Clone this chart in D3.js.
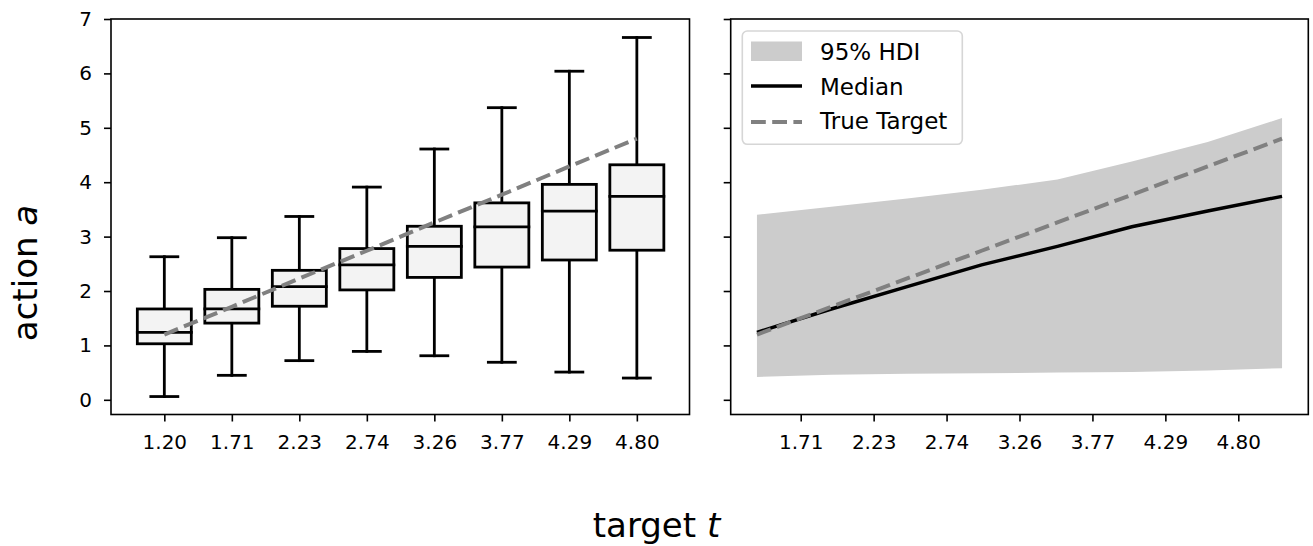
<!DOCTYPE html>
<html>
<head>
<meta charset="utf-8">
<script src="https://cdn.jsdelivr.net/npm/d3@7"></script>
<style>
  body { margin: 0; background: #fff; }
  svg, svg text { font-family: "DejaVu Sans", sans-serif; }
</style>
</head>
<body>
<svg id="chart" width="1313" height="546"></svg>
<script>
// target values (one box per target)
var targets = [1.20, 1.71, 2.23, 2.74, 3.26, 3.77, 4.29, 4.80];
var tickLabels = ["1.20", "1.71", "2.23", "2.74", "3.26", "3.77", "4.29", "4.80"];

// boxplot stats
var whiskerLow  = [0.06, 0.45, 0.72, 0.89, 0.81, 0.69, 0.51, 0.40];
var q1          = [1.03, 1.41, 1.72, 2.02, 2.25, 2.44, 2.57, 2.75];
var medians     = [1.24, 1.67, 2.08, 2.48, 2.82, 3.18, 3.47, 3.74];
var q3          = [1.67, 2.03, 2.38, 2.78, 3.19, 3.62, 3.96, 4.32];
var whiskerHigh = [2.63, 2.98, 3.37, 3.91, 4.61, 5.37, 6.04, 6.66];

// 95% HDI band for the right panel
var hdiLow  = [0.42, 0.46, 0.48, 0.49, 0.50, 0.51, 0.54, 0.58];
var hdiHigh = [3.40, 3.55, 3.70, 3.86, 4.05, 4.38, 4.74, 5.18];

// right panel ticks sit on the auto ticks but carry shifted labels
var rightTicks = [1.5, 2.0, 2.5, 3.0, 3.5, 4.0, 4.5];
var rightTickLabels = ["1.71", "2.23", "2.74", "3.26", "3.77", "4.29", "4.80"];
var yTicks = [0, 1, 2, 3, 4, 5, 6, 7];

var svg = d3.select("#chart");
var plotTop = 19, plotBottom = 414.5;
var tickFont = "20px";

var y = d3.scaleLinear().domain([-0.27, 7.0]).range([plotBottom, plotTop]);

function frame(g, x0, x1) {
  g.append("rect")
    .attr("x", x0).attr("y", plotTop)
    .attr("width", x1 - x0).attr("height", plotBottom - plotTop)
    .attr("fill", "none")
    .attr("stroke", "#000")
    .attr("stroke-width", 1.6);
}

function styleAxis(a) {
  a.attr("font-family", "DejaVu Sans").attr("font-size", 20);
  a.select(".domain").remove();
  a.selectAll(".tick line").attr("stroke", "#000").attr("stroke-width", 1.6);
  a.selectAll(".tick text").attr("fill", "#000").style("font-size", tickFont);
}

// ---------- left panel: boxplots ----------
var L = {x0: 111, x1: 689.5};
var xL = d3.scaleLinear().domain([-0.79, 7.78]).range([L.x0, L.x1]);
var gL = svg.append("g");

var yAxisL = gL.append("g")
  .attr("transform", "translate(" + L.x0 + ",0)")
  .call(d3.axisLeft(y).tickValues(yTicks).tickFormat(d3.format("d")).tickSize(7).tickPadding(12));
styleAxis(yAxisL);

var xAxisL = gL.append("g")
  .attr("transform", "translate(0," + plotBottom + ")")
  .call(d3.axisBottom(xL).tickValues(d3.range(targets.length))
    .tickFormat(function(i) { return tickLabels[i]; }).tickSize(7).tickPadding(13));
styleAxis(xAxisL);

var boxW = 0.8, capW = 0.4;
var boxes = gL.selectAll(".box")
  .data(targets.map(function(t, i) { return i; }))
  .enter().append("g")
  .attr("class", "box");

boxes.append("line")
  .attr("x1", function(i) { return xL(i); }).attr("x2", function(i) { return xL(i); })
  .attr("y1", function(i) { return y(whiskerLow[i]); })
  .attr("y2", function(i) { return y(q1[i]); });
boxes.append("line")
  .attr("x1", function(i) { return xL(i); }).attr("x2", function(i) { return xL(i); })
  .attr("y1", function(i) { return y(q3[i]); })
  .attr("y2", function(i) { return y(whiskerHigh[i]); });
boxes.append("line")
  .attr("x1", function(i) { return xL(i - capW / 2); }).attr("x2", function(i) { return xL(i + capW / 2); })
  .attr("y1", function(i) { return y(whiskerLow[i]); })
  .attr("y2", function(i) { return y(whiskerLow[i]); });
boxes.append("line")
  .attr("x1", function(i) { return xL(i - capW / 2); }).attr("x2", function(i) { return xL(i + capW / 2); })
  .attr("y1", function(i) { return y(whiskerHigh[i]); })
  .attr("y2", function(i) { return y(whiskerHigh[i]); });
boxes.append("rect")
  .attr("x", function(i) { return xL(i - boxW / 2); })
  .attr("width", function(i) { return xL(i + boxW / 2) - xL(i - boxW / 2); })
  .attr("y", function(i) { return y(q3[i]); })
  .attr("height", function(i) { return y(q1[i]) - y(q3[i]); })
  .attr("fill", "#f3f3f3");
boxes.append("line")
  .attr("x1", function(i) { return xL(i - boxW / 2); }).attr("x2", function(i) { return xL(i + boxW / 2); })
  .attr("y1", function(i) { return y(medians[i]); })
  .attr("y2", function(i) { return y(medians[i]); });
boxes.selectAll("line, rect")
  .attr("stroke", "#000")
  .attr("stroke-width", 2.8)
  .attr("stroke-linecap", "square");

gL.append("path")
  .datum(targets)
  .attr("fill", "none")
  .attr("stroke", "#808080")
  .attr("stroke-width", 4)
  .attr("stroke-dasharray", "14.8,6.4")
  .attr("d", d3.line().x(function(d, i) { return xL(i); }).y(function(d) { return y(d); }));

frame(gL, L.x0, L.x1);

// ---------- right panel: HDI band ----------
var R = {x0: 730.7, x1: 1308.3};
var xR = d3.scaleLinear().domain([1.02, 4.98]).range([R.x0, R.x1]);
var gR = svg.append("g");

var yAxisR = gR.append("g")
  .attr("transform", "translate(" + R.x0 + ",0)")
  .call(d3.axisLeft(y).tickValues(yTicks).tickFormat("").tickSize(7));
styleAxis(yAxisR);

var xAxisR = gR.append("g")
  .attr("transform", "translate(0," + plotBottom + ")")
  .call(d3.axisBottom(xR).tickValues(rightTicks)
    .tickFormat(function(d, i) { return rightTickLabels[i]; }).tickSize(7).tickPadding(13));
styleAxis(xAxisR);

gR.append("path")
  .datum(targets)
  .attr("fill", "#cccccc")
  .attr("d", d3.area()
    .x(function(d) { return xR(d); })
    .y0(function(d, i) { return y(hdiLow[i]); })
    .y1(function(d, i) { return y(hdiHigh[i]); }));

gR.append("path")
  .datum(targets)
  .attr("fill", "none")
  .attr("stroke", "#000")
  .attr("stroke-width", 3.5)
  .attr("d", d3.line().x(function(d) { return xR(d); }).y(function(d, i) { return y(medians[i]); }));

gR.append("path")
  .datum(targets)
  .attr("fill", "none")
  .attr("stroke", "#808080")
  .attr("stroke-width", 4)
  .attr("stroke-dasharray", "14.8,6.4")
  .attr("d", d3.line().x(function(d) { return xR(d); }).y(function(d) { return y(d); }));

frame(gR, R.x0, R.x1);

// legend
var leg = gR.append("g");
leg.append("rect")
  .attr("x", 742.3).attr("y", 31).attr("width", 220).attr("height", 113.3)
  .attr("rx", 5)
  .attr("fill", "#fff").attr("fill-opacity", 0.8)
  .attr("stroke", "#d6d6d6").attr("stroke-width", 1.6);
leg.append("rect")
  .attr("x", 751).attr("y", 41.5).attr("width", 51).attr("height", 19.5)
  .attr("fill", "#cccccc");
leg.append("line")
  .attr("x1", 751).attr("x2", 802).attr("y1", 86).attr("y2", 86)
  .attr("stroke", "#000").attr("stroke-width", 3.5);
leg.append("line")
  .attr("x1", 751).attr("x2", 802).attr("y1", 122).attr("y2", 122)
  .attr("stroke", "#808080").attr("stroke-width", 4)
  .attr("stroke-dasharray", "14.8,6.4");
var legendText = ["95% HDI", "Median", "True Target"];
var legendBase = [60, 94.5, 129.3];
leg.selectAll(".lt")
  .data(legendText)
  .enter().append("text")
  .attr("class", "lt")
  .attr("x", 820)
  .attr("y", function(d, i) { return legendBase[i]; })
  .style("font-size", "23px")
  .text(function(d) { return d; });

// shared axis labels
var xl = svg.append("text")
  .attr("x", 656.5).attr("y", 537)
  .attr("text-anchor", "middle")
  .style("font-size", "34px");
xl.append("tspan").text("target ");
xl.append("tspan").style("font-style", "italic").text("t");

var yl = svg.append("text")
  .attr("transform", "translate(37,273) rotate(-90)")
  .attr("text-anchor", "middle")
  .style("font-size", "34px");
yl.append("tspan").text("action ");
yl.append("tspan").style("font-style", "italic").text("a");
</script>
</body>
</html>
